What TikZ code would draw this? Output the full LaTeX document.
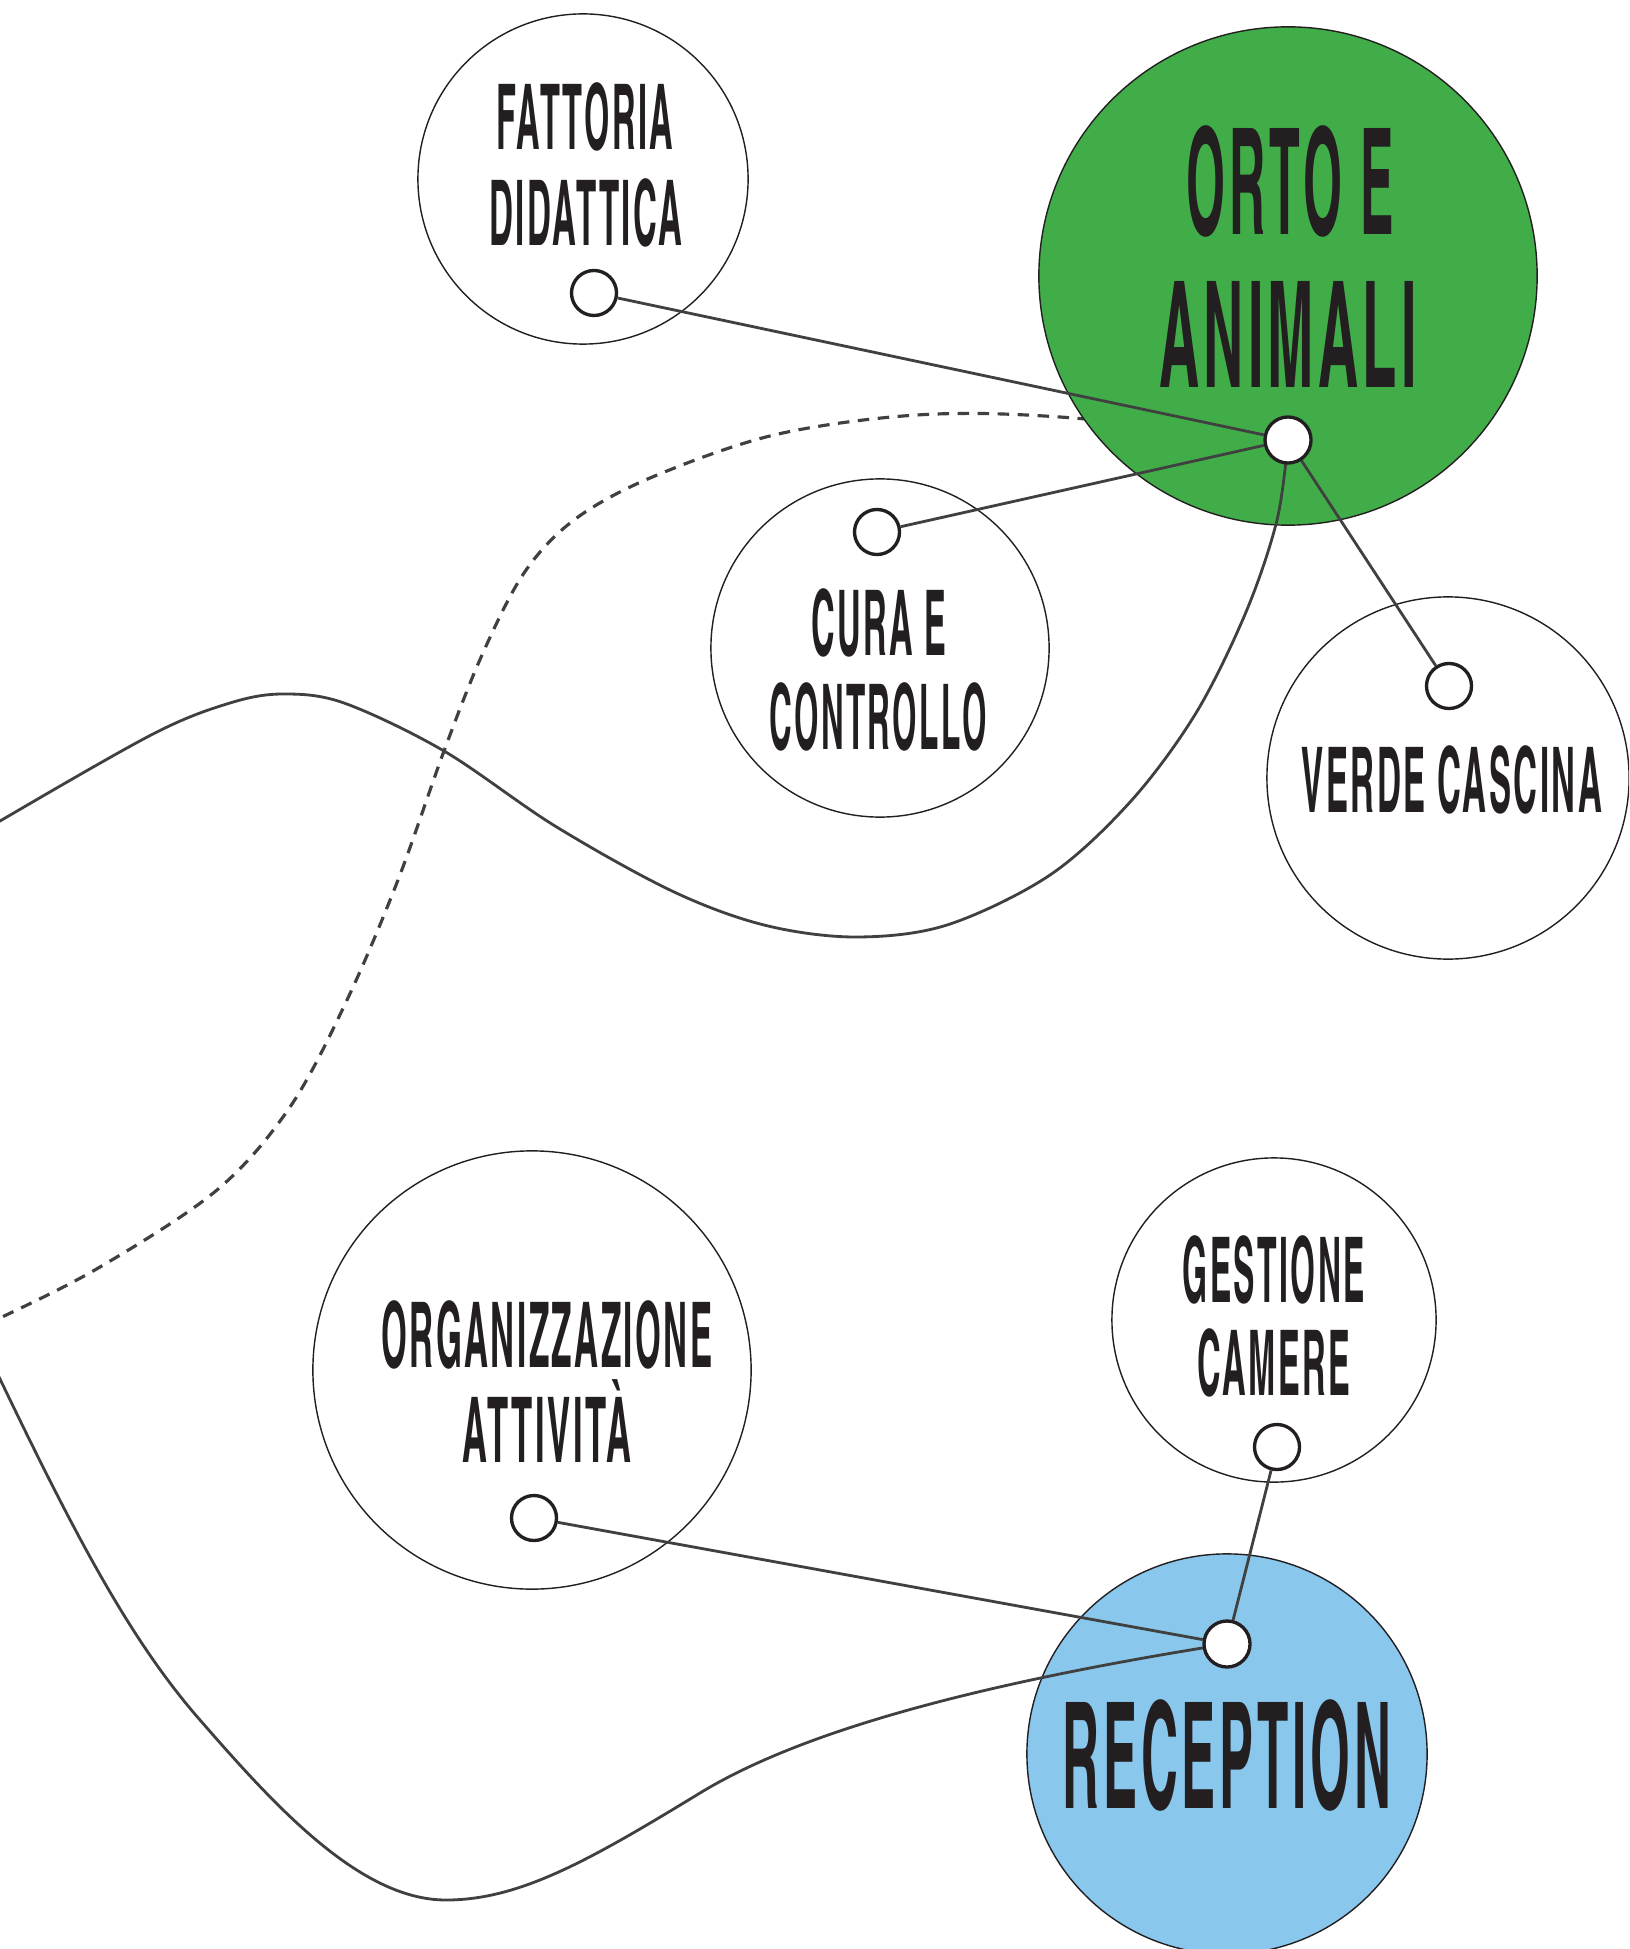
\documentclass[tikz,border=0pt]{standalone}
\usepackage{fontspec}
\usepackage{graphicx}
\newfontfamily\tagfont{texgyreheroscn-bold.otf}[LetterSpace=6]
\definecolor{ink}{RGB}{35,31,32}
\definecolor{wire}{RGB}{64,64,64}
\definecolor{orto}{RGB}{65,173,73}
\definecolor{recep}{RGB}{137,199,236}
% squeeze a line of capitals to a given width, keeping its height
\newcommand\fitw[2]{\resizebox{#1}{\height}{#2}}
\tikzset{
  disc/.style={circle, draw=ink, fill=white, line width=0.4pt, inner sep=0pt},
  port/.style={circle, draw=ink, fill=white, line width=0.95pt, minimum size=0.45cm, inner sep=0pt},
  link/.style={draw=wire, line width=0.8pt},
  trail/.style={draw=wire, line width=0.8pt, line cap=round},
  dashtrail/.style={draw=wire, line width=0.9pt, dash pattern=on 0.115cm off 0.085cm},
  tagS/.style={anchor=base, inner sep=0pt, text=ink, font=\tagfont\fontsize{25.8}{30}\selectfont},
  tagL/.style={anchor=base, inner sep=0pt, text=ink, font=\tagfont\fontsize{42}{50}\selectfont},
}
\begin{document}
\begin{tikzpicture}[x=0.01cm, y=-0.01cm]
\useasboundingbox (0,0) rectangle (1629,1949);
\clip (0,0) rectangle (1629,1949);

% hub positions
\coordinate (hubOc) at (1288,440);
\coordinate (hubRc) at (1227,1644);

% dashed route, partly hidden by the green disc
\draw[dashtrail] plot[smooth, tension=0.55] coordinates {
  (hubOc) (1060,417) (917,415) (774,435) (650,478) (574,520) (524,573)
  (482,655) (444,751) (398,880) (347,1000) (290,1107) (217,1190)
  (100,1267) (0,1318) (-60,1344)};

% main discs
\node[disc, minimum size=3.30cm] (fattoria) at (583,179) {};
\node[disc, fill=orto, minimum size=4.98cm] (orto) at (1288,276) {};
\node[disc, minimum size=3.38cm] (cura) at (880,648) {};
\node[disc, minimum size=3.62cm] (verde) at (1448,778) {};
\node[disc, minimum size=4.38cm] (organizz) at (532,1370) {};
\node[disc, minimum size=3.24cm] (gestione) at (1274,1320) {};
\node[disc, fill=recep, minimum size=4.00cm] (reception) at (1227,1754) {};

% solid routes
\draw[trail] plot[smooth, tension=0.55] coordinates {
  (hubOc) (1277,520) (1246,612) (1196,713) (1131,801) (1050,875)
  (947,925) (855,937) (764,925) (672,891) (555,826) (444,751)
  (344,703) (283,694) (230,703) (153,734) (0,821) (-60,858)};
\draw[trail] (-20,1337) -- (0,1379)
  .. controls (75,1535) and (130,1640) .. (200,1720)
  .. controls (275,1806) and (360,1900) .. (446,1900)
  .. controls (520,1900) and (590,1860) .. (700,1793)
  .. controls (810,1726) and (1000,1680) .. (hubRc);

% connection points
\node[port] (fattoriaP) at (594,293) {};
\node[port] (curaP) at (877,532) {};
\node[port] (verdeP) at (1449,686) {};
\node[port] (organizzP) at (534,1518) {};
\node[port] (gestioneP) at (1277,1447) {};
\node[port, minimum size=0.46cm] (hubO) at (hubOc) {};
\node[port, minimum size=0.46cm] (hubR) at (hubRc) {};

\draw[link] (fattoriaP) -- (hubO);
\draw[link] (curaP) -- (hubO);
\draw[link] (verdeP) -- (hubO);
\draw[link] (organizzP) -- (hubR);
\draw[link] (gestioneP) -- (hubR);

% labels
\node[tagS] (fattoria1) at (585,150) {\fitw{1.77cm}{FATTORIA}};
\node[tagS] (fattoria2) at (586,246) {\fitw{1.93cm}{DIDATTICA}};
\node[tagL] (orto1) at (1290,235) {\fitw{2.07cm}{ORTO E}};
\node[tagL] (orto2) at (1288,388) {\fitw{2.57cm}{ANIMALI}};
\node[tagS] (cura1) at (879,655) {\fitw{1.35cm}{CURA E}};
\node[tagS] (cura2) at (878,749) {\fitw{2.17cm}{CONTROLLO}};
\node[tagS] (verde1) at (1452,812) {\fitw{3.00cm}{VERDE CASCINA}};
\node[tagS] (organizz1) at (547,1367) {\fitw{3.31cm}{ORGANIZZAZIONE}};
\node[tagS] (organizz2) at (547,1462) {\fitw{1.68cm}{ATTIVITÀ}};
\node[tagS] (gestione1) at (1274,1302) {\fitw{1.82cm}{GESTIONE}};
\node[tagS] (gestione2) at (1274,1395) {\fitw{1.53cm}{CAMERE}};
\node[tagL] (reception1) at (1227,1808) {\fitw{3.29cm}{RECEPTION}};
\end{tikzpicture}
\end{document}
